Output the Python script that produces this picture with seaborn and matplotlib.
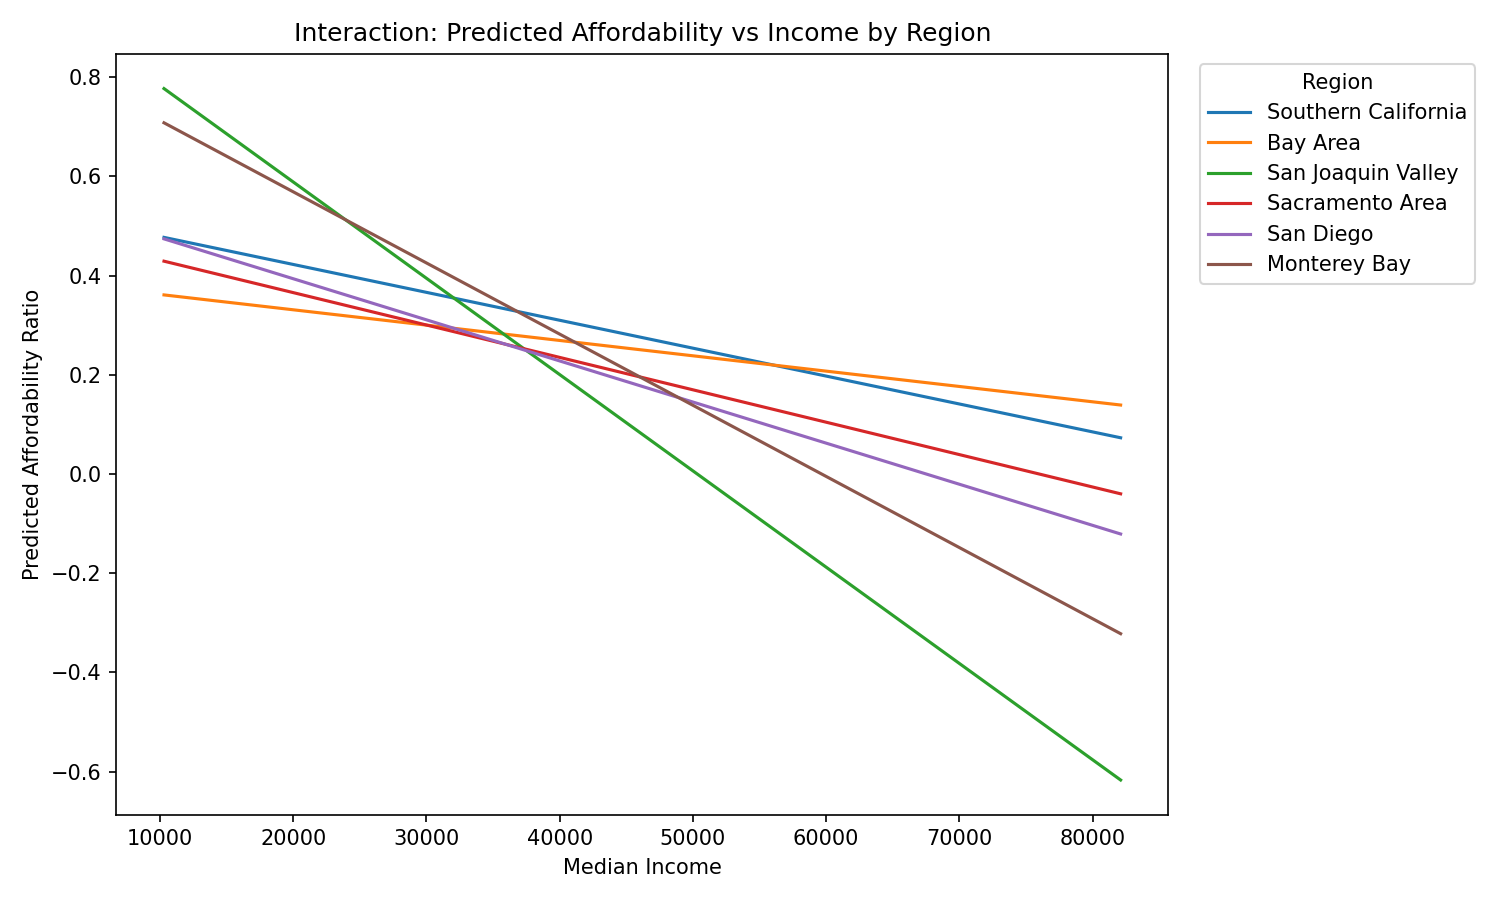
import seaborn as sns
import matplotlib.pyplot as plt
import pandas as pd

# Extremos de cada recta
regiones = ["Southern California", "Bay Area", "San Joaquin Valley",
            "Sacramento Area", "San Diego", "Monterey Bay"]
ingreso = [10300, 82100]
inicio = [0.477, 0.361, 0.777, 0.429, 0.474, 0.708]
fin = [0.073, 0.139, -0.617, -0.040, -0.121, -0.322]

filas = []
for r, a, b in zip(regiones, inicio, fin):
    filas.append({"Region": r, "income": ingreso[0], "pred": a})
    filas.append({"Region": r, "income": ingreso[1], "pred": b})
df = pd.DataFrame(filas)

colores = sns.color_palette("tab10", len(regiones))

fig, ax = plt.subplots(figsize=(10, 6), dpi=150)
sns.lineplot(data=df, x="income", y="pred", hue="Region", hue_order=regiones,
             palette=colores, ax=ax)
ax.set_title("Interaction: Predicted Affordability vs Income by Region")
ax.set_xlabel("Median Income")
ax.set_ylabel("Predicted Affordability Ratio")
ax.legend(title="Region", bbox_to_anchor=(1.02, 1), loc="upper left")
plt.tight_layout()
plt.savefig("out.png")
